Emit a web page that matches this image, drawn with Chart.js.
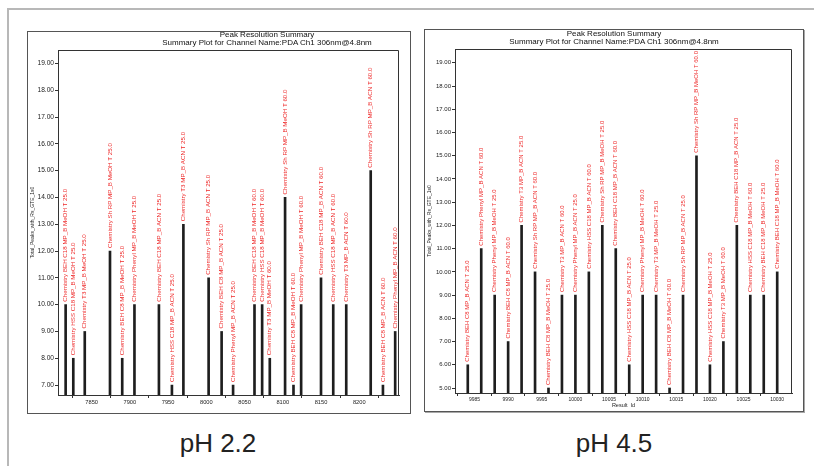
<!DOCTYPE html>
<html>
<head>
<meta charset="utf-8">
<script src="https://cdn.jsdelivr.net/npm/chart.js@4.4.1/dist/chart.umd.min.js"></script>
<style>
  body { margin: 0; background: #fff; font-family: "Liberation Sans", Arial, sans-serif; }
  #page { position: relative; width: 814px; height: 466px; overflow: hidden; background: #fff; }
  .rule-top { position: absolute; left: 8px; top: 8px; width: 806px; height: 2px; background: #b8b8b8; }
  .rule-left { position: absolute; left: 7px; top: 8px; width: 2px; height: 458px; background: #b8b8b8; }
  .frame { position: absolute; border: 1px solid #555; background: #fff; }
  .frame canvas { position: absolute; left: 0; top: 0; }
  #frameR { box-shadow: 1px 1px 0 #a8a8a8; }
  .ttl { position: absolute; transform: translateX(-50%); white-space: nowrap; font-size: 8px; line-height: 8px; color: #111; }
  .ph { position: absolute; top: 430px; transform: translateX(-50%); font-size: 26px; line-height: 26px; color: #222; white-space: nowrap; }
</style>
</head>
<body>
<div id="page">
  <div class="rule-top"></div>
  <div class="rule-left"></div>

  <div class="frame" id="frameL" style="left:27px; top:31px; width:382px; height:381px;">
    <canvas id="chartL" width="382" height="381"></canvas>
  </div>
  <div class="ttl" style="left:267px; top:31px;">Peak Resolution Summary</div>
  <div class="ttl" style="left:267px; top:38.5px;">Summary Plot for Channel Name:PDA Ch1 306nm@4.8nm</div>

  <div class="frame" id="frameR" style="left:424px; top:29px; width:378px; height:381px;">
    <canvas id="chartR" width="378" height="381"></canvas>
  </div>
  <div class="ttl" style="left:614px; top:30px;">Peak Resolution Summary</div>
  <div class="ttl" style="left:614px; top:38px;">Summary Plot for Channel Name:PDA Ch1 306nm@4.8nm</div>

  <div class="ph" style="left:218px;">pH 2.2</div>
  <div class="ph" style="left:614px;">pH 4.5</div>
</div>

<script>
// pH 2.2 - result ids, peak counts, method names
const idsL = [7816, 7826, 7841, 7874, 7890, 7906, 7938, 7955, 7970, 8003, 8020, 8035,
              8063, 8073, 8083, 8103, 8114, 8124, 8150, 8166, 8183, 8215, 8231, 8247];
const valsL = [10, 8, 9, 12, 8, 10, 10, 7, 13, 11, 9, 7,
               10, 10, 8, 14, 7, 10, 11, 10, 10, 15, 7, 9];
const namesL = [
  'Chemistry BEH C18 MP_B MeOH T 25.0',
  'Chemistry HSS C18 MP_B MeOH T 25.0',
  'Chemistry T3 MP_B MeOH T 25.0',
  'Chemistry Sh RP MP_B MeOH T 25.0',
  'Chemistry BEH C8 MP_B MeOH T 25.0',
  'Chemistry Phenyl MP_B MeOH T 25.0',
  'Chemistry BEH C18 MP_B ACN T 25.0',
  'Chemistry HSS C18 MP_B ACN T 25.0',
  'Chemistry T3 MP_B ACN T 25.0',
  'Chemistry Sh RP MP_B ACN T 25.0',
  'Chemistry BEH C8 MP_B ACN T 25.0',
  'Chemistry Phenyl MP_B ACN T 25.0',
  'Chemistry BEH C18 MP_B MeOH T 60.0',
  'Chemistry HSS C18 MP_B MeOH T 60.0',
  'Chemistry T3 MP_B MeOH T 60.0',
  'Chemistry Sh RP MP_B MeOH T 60.0',
  'Chemistry BEH C8 MP_B MeOH T 60.0',
  'Chemistry Phenyl MP_B MeOH T 60.0',
  'Chemistry BEH C18 MP_B ACN T 60.0',
  'Chemistry HSS C18 MP_B ACN T 60.0',
  'Chemistry T3 MP_B ACN T 60.0',
  'Chemistry Sh RP MP_B ACN T 60.0',
  'Chemistry BEH C8 MP_B ACN T 60.0',
  'Chemistry Phenyl MP_B ACN T 60.0'
];

// pH 4.5
const idsR = [9984, 9986, 9988, 9990, 9992, 9994, 9996, 9998, 10000, 10002, 10004, 10006,
              10008, 10010, 10012, 10014, 10016, 10018, 10020, 10022, 10024, 10026, 10028, 10030];
const valsR = [6, 11, 9, 7, 12, 10, 5, 9, 9, 10, 12, 11,
               6, 9, 9, 5, 9, 15, 6, 7, 12, 9, 9, 10];
const namesR = [
  'Chemistry BEH C8 MP_B ACN T 25.0',
  'Chemistry Phenyl MP_B ACN T 60.0',
  'Chemistry Phenyl MP_B MeOH T 25.0',
  'Chemistry BEH C8 MP_B ACN T 60.0',
  'Chemistry T3 MP_B ACN T 25.0',
  'Chemistry Sh RP MP_B ACN T 60.0',
  'Chemistry BEH C8 MP_B MeOH T 25.0',
  'Chemistry T3 MP_B ACN T 60.0',
  'Chemistry Phenyl MP_B ACN T 25.0',
  'Chemistry HSS C18 MP_B ACN T 60.0',
  'Chemistry Sh RP MP_B MeOH T 25.0',
  'Chemistry BEH C18 MP_B ACN T 60.0',
  'Chemistry HSS C18 MP_B ACN T 25.0',
  'Chemistry Phenyl MP_B MeOH T 60.0',
  'Chemistry T3 MP_B MeOH T 25.0',
  'Chemistry BEH C8 MP_B MeOH T 60.0',
  'Chemistry Sh RP MP_B ACN T 25.0',
  'Chemistry Sh RP MP_B MeOH T 60.0',
  'Chemistry HSS C18 MP_B MeOH T 25.0',
  'Chemistry T3 MP_B MeOH T 60.0',
  'Chemistry BEH C18 MP_B ACN T 25.0',
  'Chemistry HSS C18 MP_B MeOH T 60.0',
  'Chemistry BEH C18 MP_B MeOH T 25.0',
  'Chemistry BEH C18 MP_B MeOH T 60.0'
];

const yTitle = 'Total_Peaks_with_Rs_GTE_1s0';

Chart.defaults.font.family = '"Liberation Sans", Arial, sans-serif';
Chart.defaults.color = '#222';

// closes the plot area on top and right
const plotBox = {
  id: 'plotBox',
  afterDraw(chart) {
    const { ctx, chartArea: a } = chart;
    ctx.save();
    ctx.strokeStyle = '#333';
    ctx.lineWidth = 1;
    ctx.beginPath();
    ctx.moveTo(a.left, a.top + 0.5);
    ctx.lineTo(a.right - 0.5, a.top + 0.5);
    ctx.lineTo(a.right - 0.5, a.bottom);
    ctx.stroke();
    ctx.restore();
  }
};

// red rotated method names above each stick
const peakNames = {
  id: 'peakNames',
  afterDatasetsDraw(chart, args, opts) {
    const { ctx } = chart;
    const names = chart.data.datasets[0].names;
    const meta = chart.getDatasetMeta(0);
    ctx.save();
    ctx.fillStyle = '#ee2b2b';
    ctx.font = opts.size + 'px "Liberation Sans", Arial, sans-serif';
    ctx.textAlign = 'left';
    ctx.textBaseline = 'middle';
    meta.data.forEach((el, i) => {
      ctx.save();
      ctx.translate(el.x, el.y - 3);
      ctx.rotate(-Math.PI / 2);
      ctx.fillText(names[i], 0, 0);
      ctx.restore();
    });
    ctx.restore();
  }
};

function makeChart(id, ids, vals, names, o) {
  const ctx = document.getElementById(id).getContext('2d');
  return new Chart(ctx, {
    type: 'bar',
    data: {
      datasets: [{
        data: ids.map((x, i) => ({ x, y: vals[i] })),
        names,
        backgroundColor: '#1e1e1e',
        barThickness: 2
      }]
    },
    options: {
      responsive: false,
      animation: false,
      devicePixelRatio: 1,
      layout: { padding: { left: 0, top: o.padTop, right: o.padRight, bottom: 0 } },
      plugins: {
        legend: { display: false },
        tooltip: { enabled: false },
        peakNames: { size: o.nameSize }
      },
      scales: {
        x: {
          type: 'linear',
          min: o.xMin,
          max: o.xMax,
          offset: false,
          grid: { drawOnChartArea: false, drawTicks: true, tickLength: 3, color: '#333' },
          border: { display: true, color: '#333' },
          ticks: {
            stepSize: o.xStep, includeBounds: false, autoSkip: false, maxRotation: 0,
            padding: 1, font: { size: o.xTickSize }, color: '#222',
            callback: v => String(v)
          },
          // keep only the round ids the original axis shows
          afterBuildTicks: s => {
            s.ticks = s.ticks.filter(t => t.value % o.xStep === 0 && t.value <= o.xLastTick);
          },
          title: o.xTitle
            ? { display: true, text: o.xTitle, font: { size: 5.5 }, color: '#222', padding: { top: 0, bottom: 2 } }
            : { display: false },
          afterFit: s => { s.height = 18; }
        },
        y: {
          min: o.yMin,
          max: o.yMax,
          grid: { drawOnChartArea: false, drawTicks: true, tickLength: 3, color: '#333' },
          border: { display: true, color: '#333' },
          ticks: {
            stepSize: 1, includeBounds: false, padding: 1,
            font: { size: o.yTickSize }, color: '#222',
            callback: v => v.toFixed(2)
          },
          title: { display: true, text: yTitle, font: { size: 5 }, color: '#222', padding: { top: 2, bottom: 0 } },
          afterFit: s => { s.width = 30; }
        }
      }
    },
    plugins: [plotBox, peakNames]
  });
}

makeChart('chartL', idsL, valsL, namesL, {
  padTop: 18, padRight: 11,
  xMin: 7806, xMax: 8252, xStep: 50, xLastTick: 8200,
  yMin: 6.63, yMax: 19.5,
  xTickSize: 5.7, yTickSize: 6.6, nameSize: 6.2
});

makeChart('chartR', idsR, valsR, namesR, {
  padTop: 19, padRight: 11,
  xMin: 9982.1, xMax: 10032.2, xStep: 5, xLastTick: 10030,
  yMin: 4.785, yMax: 19.595,
  xTickSize: 5, yTickSize: 6, nameSize: 6,
  xTitle: 'Result  Id'
});
</script>
</body>
</html>
